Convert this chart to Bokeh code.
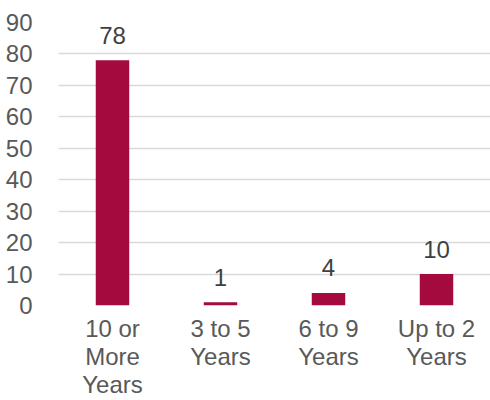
from bokeh.plotting import figure
from bokeh.models import ColumnDataSource, FactorRange, Range1d, SingleIntervalTicker
from bokeh.embed import file_html
from bokeh.resources import INLINE

# Tenure groups and their counts
categories = ["10 or\nMore\nYears", "3 to 5\nYears", "6 to 9\nYears", "Up to 2\nYears"]
counts = [78, 1, 4, 10]
labels = [str(v) for v in counts]

src = ColumnDataSource(dict(cat=categories, val=counts, lab=labels))

p = figure(
    width=490, height=400,
    x_range=FactorRange(*categories, range_padding=0),
    y_range=Range1d(0, 90),
    output_backend="svg", toolbar_location=None,
    min_border_left=58, min_border_right=0, min_border_top=22, min_border_bottom=0,
)
p.outline_line_color = None
p.background_fill_color = "white"
p.border_fill_color = "white"

BAR = "#A50A3F"
FONT = "Liberation Sans"
p.vbar(x="cat", top="val", width=0.31, source=src, fill_color=BAR, line_color=None)
p.text(x="cat", y="val", text="lab", source=src, text_align="center",
       text_baseline="alphabetic", y_offset=-25, text_color="#404040",
       text_font_size="24px", text_font={"value": FONT})

# Axes
p.yaxis.ticker = SingleIntervalTicker(interval=10)
p.yaxis.axis_line_color = None
p.yaxis.major_tick_line_color = None
p.yaxis.minor_tick_line_color = None
p.yaxis.major_label_text_font = FONT
p.yaxis.major_label_text_font_size = "24px"
p.yaxis.major_label_text_color = "#595959"
p.yaxis.major_label_standoff = 20

p.xaxis.axis_line_color = None
p.xaxis.major_tick_line_color = None
p.xaxis.major_label_text_font = FONT
p.xaxis.major_label_text_font_size = "24px"
p.xaxis.major_label_text_color = "#595959"
p.xaxis.major_label_standoff = 3
p.xaxis.major_label_text_line_height = 1.04

p.xgrid.grid_line_color = None
p.ygrid.grid_line_color = "#D9D9D9"
p.ygrid.grid_line_width = 1.5

open("out.html", "w").write(file_html(p, INLINE))
